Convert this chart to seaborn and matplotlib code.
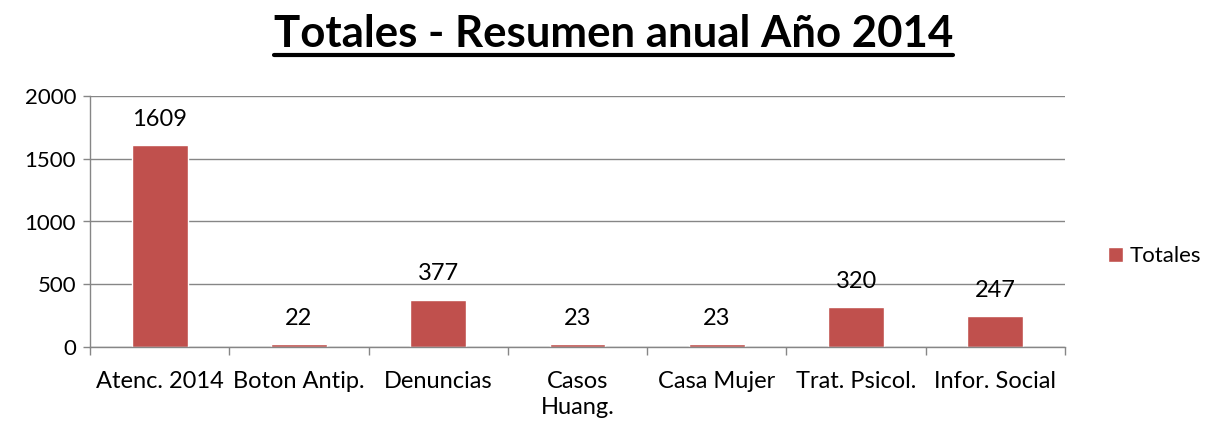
import matplotlib
matplotlib.use("Agg")
import matplotlib.pyplot as plt
import seaborn as sns
import pandas as pd
from matplotlib.lines import Line2D

categories = ["Atenc. 2014", "Boton Antip.", "Denuncias", "Casos\nHuang.", "Casa Mujer", "Trat. Psicol.", "Infor. Social"]
values = [1609, 22, 377, 23, 23, 320, 247]
series_name = "Totales"
title = "Totales - Resumen anual Año 2014"
yticks = [0, 500, 1000, 1500, 2000]

sns.set_theme(style="white")
plt.rcParams['font.family'] = ['Lato', 'DejaVu Sans']
plt.rcParams['text.color'] = 'black'
plt.rcParams['xtick.color'] = 'black'
plt.rcParams['ytick.color'] = 'black'

df = pd.DataFrame({"cat": categories, "val": values, "series": [series_name] * len(categories)})

fig = plt.figure(figsize=(12.11, 4.25), dpi=100)
ax = fig.add_axes([90 / 1211, 1 - 347 / 425, (1065 - 90) / 1211, (347 - 96) / 425])
sns.barplot(data=df, x="cat", y="val", hue="series", dodge=False, palette=["#C0504D"],
            width=0.4, ax=ax, saturation=1, legend=True)

grid_c = "#868686"
ax.set_ylim(0, 2000)
ax.set_xlim(-0.5, len(categories) - 0.5)
ax.set_yticks(yticks)
ax.set_yticklabels([str(t) for t in yticks], fontsize=16)
ax.yaxis.grid(True, color=grid_c, linewidth=1)
ax.set_axisbelow(True)
ax.set_xlabel("")
ax.set_ylabel("")
ax.set_xticks(range(len(categories)))
ax.set_xticklabels(categories, fontsize=17, linespacing=1.3)
ax.tick_params(axis="x", which="major", length=0, pad=17, labelcolor="black")
ax.set_xticks([i - 0.5 for i in range(len(categories) + 1)], minor=True)
ax.tick_params(axis="x", which="minor", length=6, color=grid_c, width=1, direction="out", bottom=True)
ax.tick_params(axis="y", length=5, color=grid_c, width=1, direction="out", left=True, pad=5, labelcolor="black")
for s in ["top", "right"]:
    ax.spines[s].set_visible(False)
for s in ["left", "bottom"]:
    ax.spines[s].set_color(grid_c)
    ax.spines[s].set_linewidth(1)

for c in ax.containers:
    ax.bar_label(c, labels=[str(v) for v in values], padding=11, fontsize=17, color="black")

leg = ax.legend(loc="center left", bbox_to_anchor=(1108 / 1211, 1 - 256 / 425), bbox_transform=fig.transFigure,
                frameon=False, fontsize=16, handlelength=0.68, handleheight=0.68, handletextpad=0.3,
                borderaxespad=0, borderpad=0)
for txt in leg.get_texts():
    txt.set_color("black")

t = fig.text(0.5065, 1 - 47 / 425, title, ha="center", va="baseline", fontsize=31.5, fontweight="bold", color="black")
fig.canvas.draw()
bb = t.get_window_extent()
ylow = 1 - 55 / 425
fig.add_artist(Line2D([bb.x0 / fig.bbox.width, bb.x1 / fig.bbox.width],
                      [ylow, ylow], color="black", linewidth=3,
                      transform=fig.transFigure))

fig.savefig("out.png", dpi=100)
